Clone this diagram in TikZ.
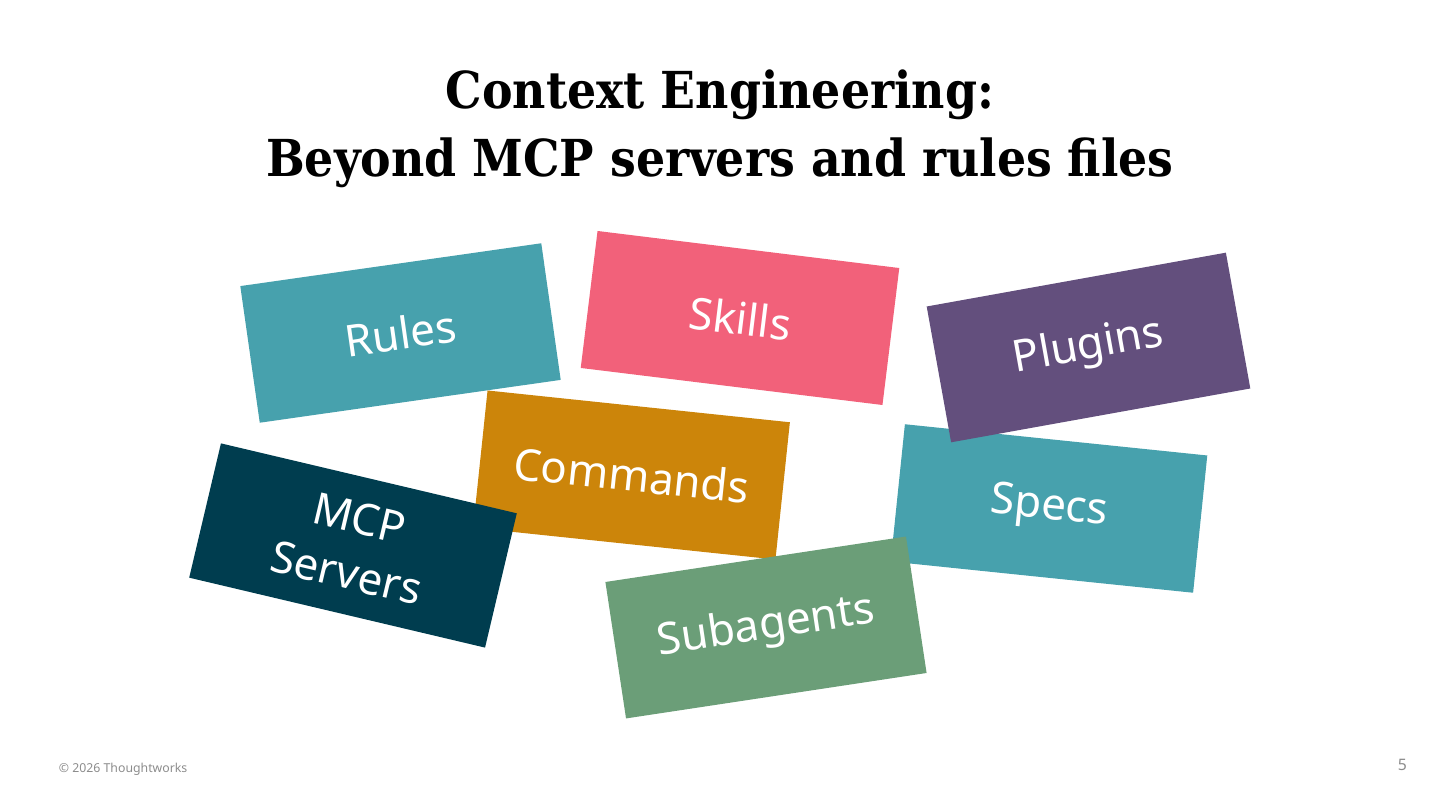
\documentclass[tikz,border=0pt]{standalone}
\usepackage{fontspec}
\setmainfont{Noto Sans}
\newfontfamily\titlefont{DejaVu Serif Condensed}
\usepackage{tikz}
\pgfdeclarelayer{cardlayer}
\pgfdeclarelayer{textlayer}
\pgfsetlayers{cardlayer,main,textlayer}
\definecolor{turquoise}{HTML}{47A1AD}
\definecolor{flamingo}{HTML}{F2617A}
\definecolor{mist}{HTML}{634F7D}
\definecolor{amber}{HTML}{CC850A}
\definecolor{wave}{HTML}{003D4F}
\definecolor{jade}{HTML}{6B9E78}
\tikzstyle{none}=[inner sep=0pt]
\tikzstyle{card}=[rectangle, minimum width=6.08cm, minimum height=2.76cm, inner sep=0pt, text=white, align=center, font=\fontsize{25}{32}\selectfont]

\begin{document}
\begin{tikzpicture}
			\useasboundingbox (0, 0) rectangle (28.8, 16.2);
			\begin{pgfonlayer}{cardlayer}
			\node [style=card, fill=turquoise, rotate=8.1] (rules) at (8.01, 9.54) {Rules};
			\node [style=card, fill=flamingo, rotate=-7] (skills) at (14.8, 9.84) {Skills};
			\node [style=card, fill=amber, rotate=-6] (commands) at (12.63, 6.7) {Commands};
			\node [style=card, fill=wave, rotate=-13.3] (mcp) at (7.06, 5.29) {MCP\\Servers};
			\node [style=card, fill=turquoise, rotate=-5.9] (specs) at (20.98, 6.03) {Specs};
			\node [style=card, fill=mist, rotate=10.2] (plugins) at (21.77, 9.25) {Plugins};
			\node [style=card, fill=jade, rotate=8.6] (subagents) at (15.32, 3.65) {Subagents};
			\end{pgfonlayer}
			\begin{pgfonlayer}{textlayer}
			\node [style=none, align=center, font=\titlefont\bfseries\fontsize{29}{39}\selectfont] (title) at (14.4, 13.62) {Context Engineering:\\Beyond MCP servers and rules files};
			\node [style=none, anchor=west, text=black!45, font=\fontsize{7}{9}\selectfont] (footer) at (1.17, 0.82) {\textcopyright{} 2026 Thoughtworks};
			\node [style=none, text=black!45, font=\fontsize{9}{11}\selectfont] (page) at (28.05, 0.9) {5};
			\end{pgfonlayer}
			\end{tikzpicture}
\end{document}
